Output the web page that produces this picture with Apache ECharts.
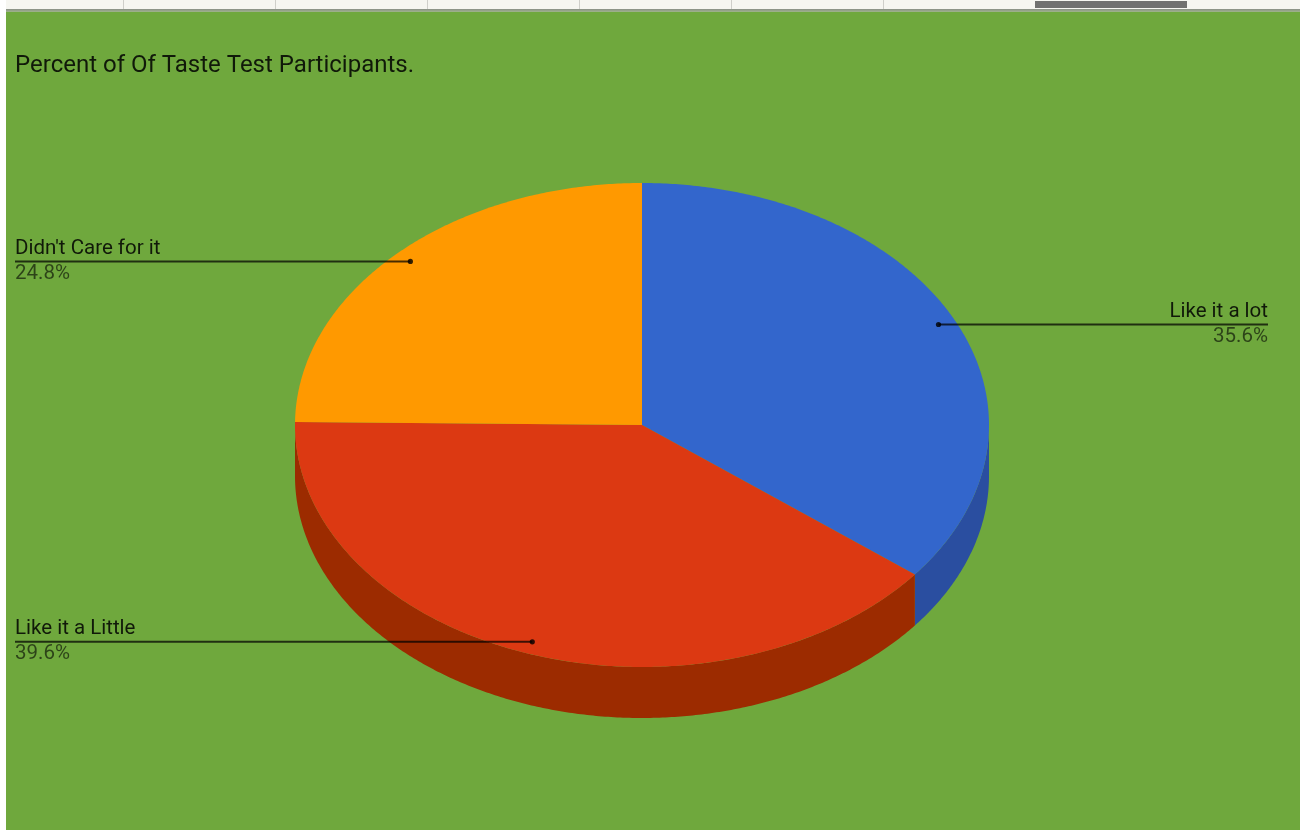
<!DOCTYPE html>
<html><head><meta charset="utf-8">
<script src="https://cdn.jsdelivr.net/npm/echarts@6/dist/echarts.min.js"></script>
<style>html,body{margin:0;padding:0;background:#fff;}#c{width:1300px;height:830px;}</style>
</head><body><div id="c"></div>
<script>
const categories = ["Like it a lot", "Like it a Little", "Didn't Care for it"];
const values = [35.6, 39.6, 24.8];
const topColors = ['#3366cc', '#dc3912', '#ff9900'];
const sideColors = ['#2a4ea0', '#9c2b00', '#b36b00'];
const titleText = 'Percent of Of Taste Test Participants.';

const total = values.reduce((a, b) => a + b, 0);
let acc = 0;
const seriesData = values.map((v, i) => { const d = { name: categories[i], value: [v, acc, i] }; acc += v; return d; });

const chart = echarts.init(document.getElementById('c'), null, { renderer: 'canvas' });
const CX = 642, CY = 425, RX = 347, RY = 242, DEPTH = 51;
function pt(th, f) { return [CX + RX * f * Math.sin(th), CY - RY * f * Math.cos(th)]; }
function arc(a, b) {
  const pts = []; const n = Math.max(2, Math.ceil((b - a) / (Math.PI / 360)));
  for (let k = 0; k <= n; k++) pts.push(pt(a + (b - a) * k / n, 1));
  return pts;
}
function renderItem(params, api) {
  const v = api.value(0), s = api.value(1), i = api.value(2);
  const a = s / total * 2 * Math.PI, b = (s + v) / total * 2 * Math.PI;
  const children = [];
  const sa = Math.max(a, Math.PI / 2), sb = Math.min(b, 1.5 * Math.PI);
  if (sb > sa) {
    const top = arc(sa, sb);
    const bottom = top.map(p => [p[0], p[1] + DEPTH]).reverse();
    children.push({ type: 'polygon', shape: { points: top.concat(bottom) }, style: { fill: sideColors[i] }, z2: 1 });
  }
  children.push({ type: 'polygon', shape: { points: [[CX, CY]].concat(arc(a, b)) }, style: { fill: topColors[i] }, z2: 5 });
  const m = (a + b) / 2;
  const d = pt(m, 0.95);
  const right = d[0] > CX;
  const ex = right ? 1268 : 15;
  children.push({ type: 'line', shape: { x1: d[0], y1: d[1], x2: ex, y2: d[1] }, style: { stroke: 'rgba(0,0,0,0.72)', lineWidth: 2 }, z2: 10 });
  children.push({ type: 'circle', shape: { cx: d[0], cy: d[1], r: 2.6 }, style: { fill: 'rgba(0,0,0,0.8)' }, z2: 11 });
  children.push({ type: 'text', x: ex, y: d[1] - 2, style: { text: categories[i], fill: 'rgba(0,0,0,0.85)', fontSize: 20.5, fontFamily: 'Roboto', align: right ? 'right' : 'left', verticalAlign: 'bottom' }, z2: 10 });
  children.push({ type: 'text', x: ex, y: d[1] + 2, style: { text: (v / total * 100).toFixed(1) + '%', fill: 'rgba(0,0,0,0.6)', fontSize: 20.5, fontFamily: 'Roboto', align: right ? 'right' : 'left', verticalAlign: 'top' }, z2: 10 });
  return { type: 'group', children };
}
const chrome = [
  { type: 'rect', shape: { x: 0, y: 0, width: 1300, height: 9 }, style: { fill: '#f6f6f1' }, z: 100 },
  { type: 'rect', shape: { x: 0, y: 9, width: 1300, height: 3 }, style: { fill: new echarts.graphic.LinearGradient(0, 0, 0, 1, [{ offset: 0, color: '#8a8f88' }, { offset: 1, color: '#9fb58a' }]) }, z: 100 },
  { type: 'rect', shape: { x: 0, y: 0, width: 6, height: 830 }, style: { fill: '#ffffff' }, z: 100 },
  { type: 'rect', shape: { x: 1035, y: 1, width: 152, height: 7 }, style: { fill: '#717170' }, z: 101 }
];
[123, 275, 427, 579, 731, 883].forEach(x => chrome.push({ type: 'rect', shape: { x: x, y: 0, width: 1, height: 9 }, style: { fill: '#cfcfca' }, z: 101 }));
chart.setOption({
  backgroundColor: '#6fa83d',
  animation: false,
  title: { text: titleText, left: 15, top: 54, padding: 0, textStyle: { fontFamily: 'Roboto', fontSize: 24, fontWeight: 'normal', color: 'rgba(0,0,0,0.85)' } },
  graphic: chrome,
  series: [{ type: 'custom', coordinateSystem: 'none', renderItem: renderItem, data: seriesData }]
});
</script></body></html>
